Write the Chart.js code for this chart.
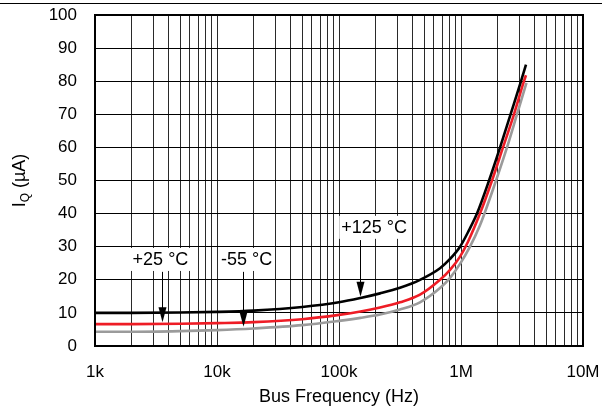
<!DOCTYPE html>
<html><head><meta charset="utf-8">
<script src="https://cdn.jsdelivr.net/npm/chart.js@4"></script>
<style>html,body{margin:0;padding:0;background:#fff;}</style>
</head><body>
<canvas id="c" width="602" height="416"></canvas>
<script>
// ---- data (frequency in Hz, quiescent current in µA) ----
const freqHot  = [1e3, 2e3, 5e3, 1e4, 2e4, 5e4, 1e5, 1.5e5, 2.17e5, 3.16e5, 4.61e5, 6.73e5, 8.13e5, 9.82e5, 1.164e6, 1.352e6, 1.698e6, 2.09e6, 2.548e6, 3.105e6, 3.41e6];
const iqHot    = [10.0, 10.0, 10.1, 10.3, 10.7, 11.8, 13.2, 14.5, 15.9, 17.6, 20.0, 23.5, 26.3, 30.0, 35.0, 40.0, 50.0, 60.0, 70.0, 80.0, 85.0];
const freqRoom = [1e3, 2e3, 5e3, 1e4, 2e4, 5e4, 1e5, 1.5e5, 2.17e5, 3.16e5, 4.61e5, 6.73e5, 8.13e5, 9.82e5, 1.141e6, 1.431e6, 1.796e6, 2.209e6, 2.718e6, 3.281e6, 3.41e6];
const iqRoom   = [6.6, 6.6, 6.7, 6.9, 7.2, 8.1, 9.4, 10.4, 11.6, 13.2, 15.5, 20.0, 23.0, 27.0, 31.5, 40.0, 50.0, 60.0, 70.0, 80.0, 81.8];
const freqCold = [1e3, 2e3, 5e3, 1e4, 2e4, 5e4, 1e5, 1.5e5, 2.17e5, 3.16e5, 4.61e5, 6.73e5, 8.13e5, 9.82e5, 1.185e6, 1.431e6, 1.574e6, 1.937e6, 2.383e6, 2.877e6, 3.44e6];
const iqCold   = [4.3, 4.3, 4.5, 4.8, 5.3, 6.3, 7.6, 8.5, 9.5, 11.0, 13.2, 17.5, 20.6, 24.8, 30.0, 36.5, 40.5, 50.0, 60.0, 70.0, 79.5];

const seriesLabels = ['+125 °C', '+25 °C', '-55 °C'];

// tick labels
const tickValues = [1e3, 1e4, 1e5, 1e6, 1e7];
const tickLabels = ['1k', '10k', '100k', '1M', '10M'];
const yTicks = [0, 10, 20, 30, 40, 50, 60, 70, 80, 90, 100];

// annotation callouts (data units)
const annoText    = ['+25 °C', '-55 °C', '+125 °C'];
const annoLabelF  = [3.44e3, 1.75e4, 1.94e5];
const annoLabelV  = [26.3, 26.3, 36.0];
const annoArrowF  = [3.51e3, 1.62e4, 1.486e5];
const annoArrowTop= [22.4, 22.4, 32.0];
const annoArrowTip= [7.2, 5.8, 14.9];

// ---- chart ----
const FONT = "'Liberation Sans', Arial, Helvetica, sans-serif";
Chart.defaults.font.family = FONT;
Chart.defaults.font.size = 17;
Chart.defaults.color = '#000';

const toXY = (fs, vs) => fs.map((f, i) => ({x: f, y: vs[i]}));

// grid lines at 1..9 x each decade
const gridFreqs = [];
for (let e = 3; e < 7; e++) for (let m = 1; m <= 9; m++) gridFreqs.push(m * Math.pow(10, e));
gridFreqs.push(1e7);

const framePlugin = {
  id: 'frame',
  beforeDraw(chart) {
    const c = chart.ctx;
    c.save();
    c.fillStyle = '#fff';
    c.fillRect(0, 0, chart.width, chart.height);
    c.strokeStyle = '#000';
    c.lineWidth = 1;
    c.beginPath(); c.moveTo(0, 3.5); c.lineTo(chart.width, 3.5); c.stroke();
    c.restore();
  },
  afterDraw(chart) {
    const c = chart.ctx, a = chart.chartArea;
    c.save();
    c.strokeStyle = '#000';
    c.lineWidth = 2;
    c.strokeRect(a.left, a.top, a.right - a.left, a.bottom - a.top);
    // y axis title with subscript
    c.translate(19, (a.top + a.bottom) / 2);
    c.rotate(-Math.PI / 2);
    c.fillStyle = '#000';
    c.textBaseline = 'alphabetic';
    const big = '18px ' + FONT, small = '12px ' + FONT;
    c.font = big; const wI = c.measureText('I').width; const wR = c.measureText(' (µA)').width;
    c.font = small; const wQ = c.measureText('Q').width;
    let x = -(wI + wQ + wR) / 2;
    const base = 6;
    c.font = big; c.fillText('I', x, base); x += wI;
    c.font = small; c.fillText('Q', x, base + 4); x += wQ;
    c.font = big; c.fillText(' (µA)', x, base);
    c.restore();
  }
};

const annoPlugin = {
  id: 'anno',
  afterDatasetsDraw(chart) {
    const c = chart.ctx, xs = chart.scales.x, ys = chart.scales.y;
    c.save();
    c.font = '18px ' + FONT;
    c.textAlign = 'center';
    c.textBaseline = 'middle';
    for (let i = 0; i < annoText.length; i++) {
      const lx = xs.getPixelForValue(annoLabelF[i]);
      const ly = ys.getPixelForValue(annoLabelV[i]);
      const w = c.measureText(annoText[i]).width;
      c.fillStyle = '#fff';
      c.fillRect(lx - w / 2 - 2, ly - 11, w + 4, 23);
      c.fillStyle = '#000';
      c.fillText(annoText[i], lx, ly + 1);
      const ax = Math.round(xs.getPixelForValue(annoArrowF[i])) + 0.5;
      const at = ys.getPixelForValue(annoArrowTop[i]);
      const tip = ys.getPixelForValue(annoArrowTip[i]);
      c.strokeStyle = '#000';
      c.lineWidth = 1;
      c.beginPath(); c.moveTo(ax, at); c.lineTo(ax, tip - 10); c.stroke();
      c.beginPath();
      c.moveTo(ax - 4, tip - 15); c.lineTo(ax + 4, tip - 15); c.lineTo(ax, tip); c.closePath();
      c.fill();
    }
    c.restore();
  }
};

new Chart(document.getElementById('c').getContext('2d'), {
  type: 'scatter',
  data: {
    datasets: [
      {label: seriesLabels[0], data: toXY(freqHot, iqHot), showLine: true, borderColor: '#000000', borderWidth: 2.6, pointRadius: 0, cubicInterpolationMode: 'monotone'},
      {label: seriesLabels[1], data: toXY(freqRoom, iqRoom), showLine: true, borderColor: '#ee1c25', borderWidth: 2.6, pointRadius: 0, cubicInterpolationMode: 'monotone'},
      {label: seriesLabels[2], data: toXY(freqCold, iqCold), showLine: true, borderColor: '#9b9b9b', borderWidth: 2.6, pointRadius: 0, cubicInterpolationMode: 'monotone'}
    ]
  },
  options: {
    responsive: false,
    animation: false,
    devicePixelRatio: 1,
    layout: {padding: {top: 15, right: 19, left: 0, bottom: 0}},
    plugins: {legend: {display: false}, tooltip: {enabled: false}},
    scales: {
      x: {
        type: 'logarithmic', min: 1e3, max: 1e7, position: 'bottom',
        afterBuildTicks: s => { s.ticks = gridFreqs.map(v => ({value: v})); },
        afterFit: s => { s.height = 70; s.paddingLeft = 0; s.paddingRight = 0; },
        ticks: {
          autoSkip: false, maxRotation: 0, minRotation: 0, padding: 16,
          callback: (v) => {
            const i = tickValues.findIndex(t => Math.abs(t - v) < 1e-6 * t);
            return i >= 0 ? tickLabels[i] : '';
          }
        },
        grid: {color: '#2a2a2a', lineWidth: 1, drawTicks: false},
        border: {display: false},
        title: {display: true, text: 'Bus Frequency (Hz)', padding: {top: 0, bottom: 8}, font: {size: 18}}
      },
      y: {
        min: 0, max: 100,
        afterFit: s => { s.width = 95; s.paddingTop = 0; s.paddingBottom = 0; },
        afterBuildTicks: s => { s.ticks = yTicks.map(v => ({value: v})); },
        ticks: {padding: 18},
        grid: {color: '#000', lineWidth: 1, drawTicks: false},
        border: {display: false}
      }
    }
  },
  plugins: [framePlugin, annoPlugin]
});
</script>
</body></html>
